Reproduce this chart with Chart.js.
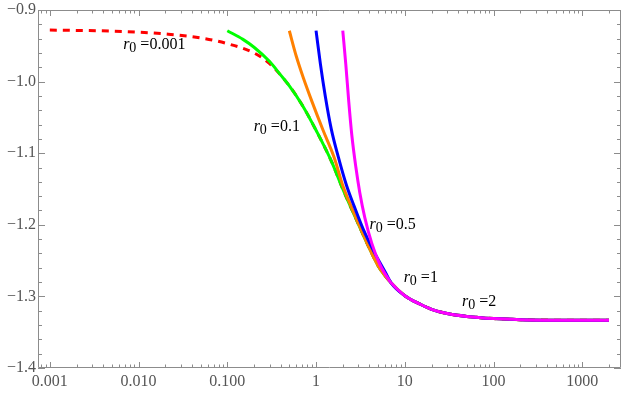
<!DOCTYPE html>
<html>
<head>
<meta charset="utf-8">
<script src="https://cdn.jsdelivr.net/npm/chart.js@4.4.1/dist/chart.umd.min.js"></script>
<style>
  html, body { margin: 0; padding: 0; background: #fff; }
  #wrap { width: 623px; height: 393px; position: relative; }
</style>
</head>
<body>
<div id="wrap"><canvas id="chart"></canvas></div>
<script>
// ---- data ----
// common tail, all curves run together here
const xTail = [7, 10, 15, 20, 30, 50, 100, 200, 500, 1000, 2000];
const yTail = [-1.281, -1.299, -1.311, -1.318, -1.324, -1.328, -1.331, -1.3325, -1.3332, -1.3333, -1.3333];

// r0 = 0.001 (dashed)
const x001 = [0.001, 0.002, 0.005, 0.01, 0.02, 0.05, 0.1, 0.2, 0.3, 0.5, 0.7, 1, 1.5, 2, 3, 4, 5];
const y001 = [-0.928, -0.9285, -0.9295, -0.931, -0.9335, -0.939, -0.947, -0.960, -0.975, -1.006, -1.033, -1.068, -1.112, -1.15, -1.199, -1.233, -1.257];
// r0 = 0.1
const x01 = [0.1, 0.15, 0.2, 0.3, 0.4, 0.5, 0.7, 1, 1.5, 2, 3, 4, 5];
const y01 = [-0.929, -0.941, -0.952, -0.972, -0.991, -1.006, -1.033, -1.068, -1.112, -1.15, -1.199, -1.233, -1.257];
// r0 = 0.5
const x05 = [0.5, 0.6, 0.72, 0.9, 1.2, 1.6, 2, 2.5, 3, 4, 5];
const y05 = [-0.929, -0.965, -0.995, -1.028, -1.068, -1.106, -1.145, -1.175, -1.198, -1.233, -1.257];
// r0 = 1
const x1 = [1, 1.117, 1.271, 1.485, 1.781, 2.192, 2.698, 3.408, 4.417, 6.03];
const y1 = [-0.9288, -0.9746, -1.0204, -1.0663, -1.1051, -1.144, -1.1746, -1.2065, -1.2357, -1.2663];
// r0 = 2
const x2 = [2.0, 2.164, 2.339, 2.528, 2.805, 3.112, 3.543, 4.249, 5.228, 6.776];
const y2 = [-0.9288, -0.976, -1.0288, -1.0746, -1.119, -1.1551, -1.1899, -1.226, -1.2551, -1.2788];

const xTickVals = [0.001, 0.01, 0.1, 1, 10, 100, 1000];
const xTickLabels = ['0.001', '0.010', '0.100', '1', '10', '100', '1000'];
const yTickVals = [-1.4, -1.3, -1.2, -1.1, -1.0, -0.9];

// curve labels (data coords: left edge / baseline)
const labelText = ['0.001', '0.1', '0.5', '1', '2'];
const labelX = [0.0067, 0.198, 4.0, 9.7, 44];
const labelY = [-0.954, -1.069, -1.206, -1.280, -1.3135];

const FONT = "'Liberation Serif', 'Times New Roman', serif";

function pts(xs, ys) {
  const a = xs.map((x, i) => ({ x, y: ys[i] }));
  const b = xTail.map((x, i) => ({ x, y: yTail[i] }));
  return a.concat(b);
}

function series(label, xs, ys, color, order, dash) {
  return {
    label,
    data: pts(xs, ys),
    borderColor: color,
    borderWidth: 3,
    borderDash: dash || [],
    pointRadius: 0,
    fill: false,
    order,
    cubicInterpolationMode: 'monotone'
  };
}

// frame with inward ticks on all four sides, like the original
const framePlugin = {
  id: 'frame',
  beforeDatasetsDraw(chart) {
    const { ctx, chartArea: a, scales: { x, y } } = chart;
    ctx.save();
    ctx.strokeStyle = '#8c8c8c';
    ctx.lineWidth = 1;
    ctx.beginPath();
    ctx.rect(a.left + 0.5, a.top + 0.5, a.right - a.left - 1, a.bottom - a.top - 1);
    ctx.stroke();

    ctx.beginPath();
    // x ticks (decades + 2..9)
    for (let e = -4; e <= 3; e++) {
      for (let m = 1; m <= 9; m++) {
        const v = m * Math.pow(10, e);
        if (v < x.min || v > x.max) continue;
        const px = Math.round(x.getPixelForValue(v)) + 0.5;
        const len = m === 1 ? 6 : 3.5;
        ctx.moveTo(px, a.bottom); ctx.lineTo(px, a.bottom - len);
        ctx.moveTo(px, a.top); ctx.lineTo(px, a.top + len);
      }
    }
    // y ticks every 0.02, major every 0.1
    for (let k = 0; k <= 25; k++) {
      const v = -1.4 + k * 0.02;
      const py = Math.round(y.getPixelForValue(v)) + 0.5;
      const len = k % 5 === 0 ? 7 : 4;
      ctx.moveTo(a.left, py); ctx.lineTo(a.left + len, py);
      ctx.moveTo(a.right, py); ctx.lineTo(a.right - len, py);
    }
    ctx.stroke();
    ctx.restore();
  },
  afterDatasetsDraw(chart) {
    const { ctx, scales: { x, y } } = chart;
    ctx.save();
    ctx.fillStyle = '#000';
    ctx.textBaseline = 'alphabetic';
    labelText.forEach((t, i) => {
      let px = x.getPixelForValue(labelX[i]);
      const py = y.getPixelForValue(labelY[i]);
      ctx.font = `italic 16px ${FONT}`;
      ctx.fillText('r', px, py);
      px += ctx.measureText('r').width;
      ctx.font = `14px ${FONT}`;
      ctx.fillText('0', px, py + 3);
      px += ctx.measureText('0').width;
      ctx.font = `16px ${FONT}`;
      ctx.fillText(' =' + t, px, py);
    });
    ctx.restore();
  }
};

new Chart(document.getElementById('chart'), {
  type: 'line',
  data: {
    datasets: [
      series('r0=0.001', x001, y001, '#ff0000', 5, [7, 6]),
      series('r0=0.1', x01, y01, '#00ff00', 4),
      series('r0=0.5', x05, y05, '#ff8000', 3),
      series('r0=1', x1, y1, '#0000ff', 2),
      series('r0=2', x2, y2, '#ff00ff', 1)
    ]
  },
  options: {
    responsive: true,
    maintainAspectRatio: false,
    devicePixelRatio: 1,
    animation: false,
    layout: { padding: { top: 8, right: 2, left: 0, bottom: 0 } },
    plugins: { legend: { display: false }, tooltip: { enabled: false } },
    scales: {
      x: {
        type: 'logarithmic',
        min: 0.000736,
        max: 2730,
        grid: { display: false, drawTicks: false },
        border: { display: false },
        afterBuildTicks: s => { s.ticks = xTickVals.map(v => ({ value: v })); },
        afterFit: s => { s.height = 25; },
        ticks: {
          autoSkip: false, maxRotation: 0, padding: 6,
          color: '#555',
          font: { family: FONT, size: 16, lineHeight: 1 },
          callback: (v, i) => xTickLabels[i]
        }
      },
      y: {
        min: -1.4,
        max: -0.9,
        grid: { display: false, drawTicks: false },
        border: { display: false },
        afterBuildTicks: s => { s.ticks = yTickVals.map(v => ({ value: v })); },
        afterFit: s => { s.width = 38; },
        ticks: {
          padding: 2,
          color: '#555',
          font: { family: FONT, size: 16, lineHeight: 1 },
          callback: v => (v < 0 ? '\u2212' : '') + Math.abs(v).toFixed(1)
        }
      }
    }
  },
  plugins: [framePlugin]
});
</script>
</body>
</html>
